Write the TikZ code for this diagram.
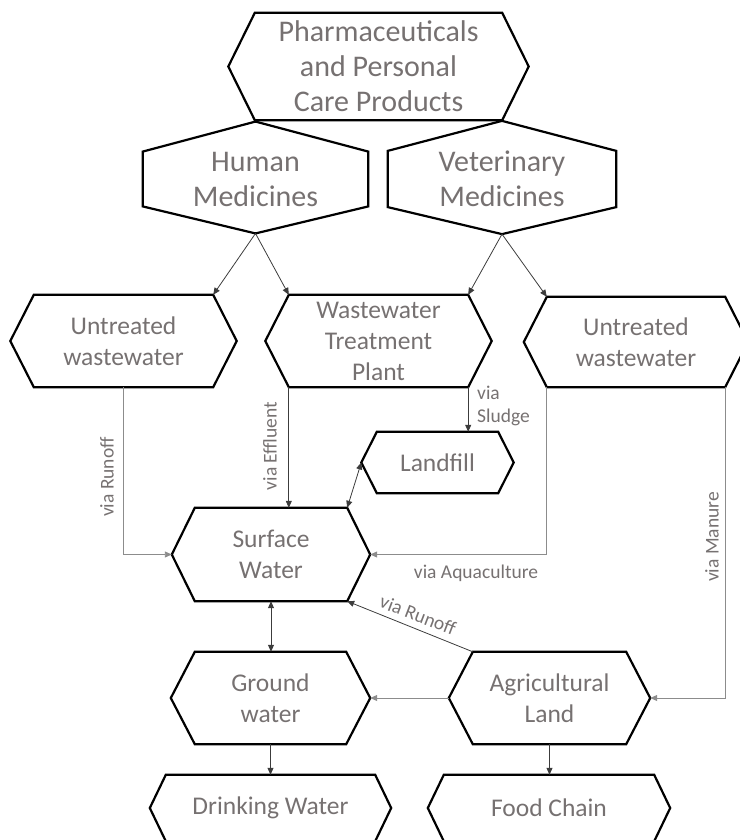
\documentclass[tikz,border=0pt]{standalone}
\usepackage{fontspec}
\setmainfont{Carlito}
\usetikzlibrary{arrows.meta}
\definecolor{txtgray}{RGB}{118,113,113}
\definecolor{darkline}{RGB}{60,60,60}
\definecolor{grayline}{RGB}{140,140,140}
\newcommand\bigtxt{\fontsize{30}{35}\selectfont}
\newcommand\midtxt{\fontsize{25.5}{31}\selectfont}
\newcommand\lbltxt{\fontsize{19.5}{23}\selectfont}
\newcommand\hexh[2]{\draw[hexline] (#1.north west) -- (#1.north east) -- ([xshift=#2pt]#1.east) -- (#1.south east) -- (#1.south west) -- ([xshift=-#2pt]#1.west) -- cycle;}
\newcommand\hexv[3]{\draw[hexline] (#1.north west) -- ([yshift=#2pt]#1.north) -- (#1.north east) -- (#1.south east) -- ([yshift=-#3pt]#1.south) -- (#1.south west) -- cycle;}
\tikzset{
  box/.style={inner sep=0pt, align=center, text=txtgray, font=\midtxt},
  hexline/.style={line width=2.2pt, draw=black, line join=miter},
  dconn/.style={-{Triangle[length=7pt,width=6pt]}, line width=0.8pt, draw=darkline},
  gconn/.style={-{Triangle[length=7pt,width=6pt]}, line width=0.9pt, draw=grayline},
  bconn/.style={{Triangle[length=7pt,width=6pt]}-{Triangle[length=7pt,width=6pt]}, line width=0.8pt, draw=darkline},
  lbl/.style={inner sep=0pt, text=txtgray, font=\lbltxt, align=left}
}
\begin{document}
\begin{tikzpicture}[x=1pt,y=-1pt]
\useasboundingbox (0,0) rectangle (739,840);
% boxes
\node[box, font=\bigtxt, minimum width=247pt, minimum height=107pt] (pp) at (378.5,66.5) {Pharmaceuticals\\and Personal\\Care Products};
\node[box, font=\bigtxt, minimum width=225pt, minimum height=54pt] (hm) at (255.5,179) {Human\\Medicines};
\node[box, font=\bigtxt, minimum width=228pt, minimum height=54pt] (vm) at (502,179) {Veterinary\\Medicines};
\node[box, minimum width=179pt, minimum height=92pt] (ul) at (123.5,341) {Untreated\\wastewater};
\node[box, minimum width=179pt, minimum height=92pt] (wt) at (378.5,341) {Wastewater\\Treatment\\Plant};
\node[box, minimum width=178pt, minimum height=90pt] (ur) at (636,342) {Untreated\\wastewater};
\node[box, minimum width=121pt, minimum height=61pt] (lf) at (437.5,462.5) {Landfill};
\node[box, minimum width=152pt, minimum height=93pt] (sw) at (271,554.5) {Surface\\Water};
\node[box, minimum width=151pt, minimum height=92pt] (gw) at (270.5,698) {Ground\\water};
\node[box, minimum width=153pt, minimum height=92pt] (ag) at (549.5,698) {Agricultural\\Land};
\node[box, minimum width=209pt, minimum height=66pt] (dw) at (270.5,808) {Drinking Water};
\node[box, minimum width=210pt, minimum height=66pt] (fc) at (549,808) {Food Chain};
% outlines
\hexh{pp}{26.5}
\hexv{hm}{30}{27}
\hexv{vm}{30}{27}
\hexh{ul}{23.5}
\hexh{wt}{23.5}
\hexh{ur}{23}
\hexh{lf}{15.5}
\hexh{sw}{23}
\hexh{gw}{24}
\hexh{ag}{24}
\hexh{dw}{16}
\hexh{fc}{16}
% key points
\coordinate (hmB) at ([yshift=-27pt]hm.south);
\coordinate (vmB) at ([yshift=-27pt]vm.south);
\coordinate (lfL) at ([xshift=-15.5pt]lf.west);
\coordinate (swL) at ([xshift=-23pt]sw.west);
\coordinate (swR) at ([xshift=23pt]sw.east);
\coordinate (gwR) at ([xshift=24pt]gw.east);
\coordinate (agL) at ([xshift=-24pt]ag.west);
\coordinate (agR) at ([xshift=24pt]ag.east);
% connectors
\draw[dconn] (hmB) -- (ul.north east);
\draw[dconn] (hmB) -- (wt.north west);
\draw[dconn] (vmB) -- (wt.north east);
\draw[dconn] (vmB) -- (ur.north west);
\draw[gconn] (ul.south) |- (swL);
\draw[dconn] (wt.south west) -- (wt.south west |- sw.north);
\draw[dconn] (wt.south east) -- (wt.south east |- lf.north);
\draw[bconn] (lfL) -- (sw.north east);
\draw[gconn] (ur.south west) |- (swR);
\draw[gconn] (ur.south east) |- (agR);
\draw[dconn] (ag.north west) -- (sw.south east);
\draw[bconn] (sw.south) -- (sw.south |- gw.north);
\draw[gconn] (agL) -- (gwR);
\draw[dconn] (gw.south) -- (dw.north);
\draw[dconn] (ag.south) -- (ag.south |- fc.north);
% labels
\node[lbl, rotate=90] (l1) at (107,477) {via Runoff};
\node[lbl, rotate=90] (l2) at (270,446) {via Effluent};
\node[lbl, anchor=west] (l3) at (477,405.5) {via\\Sludge};
\node[lbl] (l4) at (476,573) {via Aquaculture};
\node[lbl, rotate=90] (l5) at (712,537) {via Manure};
\node[lbl, rotate=-21] (l6) at (418,615) {via Runoff};
\end{tikzpicture}
\end{document}
